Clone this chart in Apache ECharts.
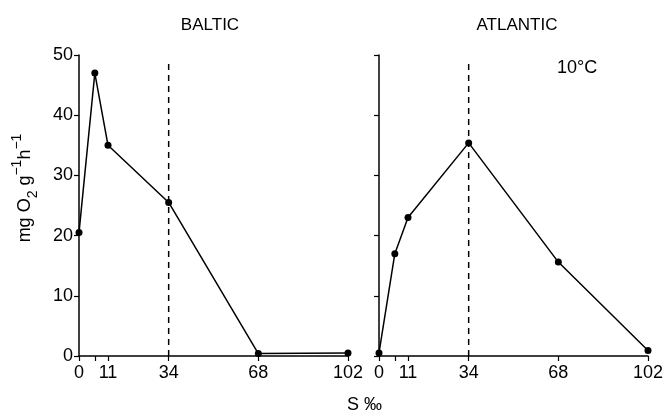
<!DOCTYPE html>
<html>
<head>
<meta charset="utf-8">
<script src="https://cdn.jsdelivr.net/npm/echarts@6/dist/echarts.min.js"></script>
<style>html,body{margin:0;padding:0;background:#fff;}#c{width:665px;height:417px;}</style>
</head>
<body>
<div id="c"></div>
<script>
// Data
const salinity = [0, 6, 11, 34, 68, 102];
const balticValues = [20.5, 47, 35, 25.5, 0.4, 0.5];
const atlanticValues = [0.5, 17, 23, 35.4, 15.6, 0.9];
const xTickValues = [0, 6, 11, 34, 68, 102];
const xLabelValues = [0, 11, 34, 68, 102];
const referenceSalinity = 34;
const referenceLine = [0, 49];
const panelTitles = ['BALTIC', 'ATLANTIC'];

const FONT = 'Liberation Sans';
const chart = echarts.init(document.getElementById('c'));

function pairs(xs, ys) { return xs.map((x, i) => [x, ys[i]]); }

function xAxisCfg(gridIndex) {
  return {
    type: 'value', gridIndex, min: 0, max: 102,
    axisLine: { show: true, lineStyle: { color: '#000', width: 1.5 } },
    axisTick: { show: true, inside: false, length: 5, customValues: xTickValues, lineStyle: { color: '#000', width: 1.2 } },
    axisLabel: { show: true, customValues: xLabelValues, color: '#000', fontFamily: FONT, fontSize: 18, margin: 8 },
    splitLine: { show: false }
  };
}
function yAxisCfg(gridIndex, showLabels) {
  return {
    type: 'value', gridIndex, min: 0, max: 50, interval: 10,
    axisLine: { show: true, onZero: false, lineStyle: { color: '#000', width: 1.5 } },
    axisTick: { show: true, inside: false, length: 5, lineStyle: { color: '#000', width: 1.2 } },
    axisLabel: { show: showLabels, color: '#000', fontFamily: FONT, fontSize: 18, margin: 6 },
    splitLine: { show: false }
  };
}
function dataSeries(idx, values) {
  return {
    type: 'line', xAxisIndex: idx, yAxisIndex: idx,
    data: pairs(salinity, values),
    symbol: 'circle', symbolSize: 7,
    itemStyle: { color: '#000' },
    lineStyle: { color: '#000', width: 1.5 },
    animation: false, z: 3
  };
}
function refSeries(idx) {
  return {
    type: 'line', xAxisIndex: idx, yAxisIndex: idx,
    data: referenceLine.map(v => [referenceSalinity, v]),
    symbol: 'none',
    lineStyle: { color: '#000', width: 1.5, type: [6, 5] },
    animation: false, z: 2
  };
}

chart.setOption({
  backgroundColor: '#fff',
  animation: false,
  title: [
    { text: panelTitles[0], left: 205, top: 12, textAlign: 'center', textStyle: { fontFamily: FONT, fontSize: 17, fontWeight: 'normal', color: '#000' } },
    { text: panelTitles[1], left: 512, top: 12, textAlign: 'center', textStyle: { fontFamily: FONT, fontSize: 17, fontWeight: 'normal', color: '#000' } }
  ],
  grid: [
    { left: 79, top: 55, width: 269, height: 301, containLabel: false, outerBoundsMode: 'none' },
    { left: 379, top: 55, width: 269, height: 301, containLabel: false, outerBoundsMode: 'none' }
  ],
  xAxis: [xAxisCfg(0), xAxisCfg(1)],
  yAxis: [yAxisCfg(0, true), yAxisCfg(1, false)],
  series: [
    dataSeries(0, balticValues), refSeries(0),
    dataSeries(1, atlanticValues), refSeries(1)
  ],
  graphic: [
    { type: 'text', left: 557, top: 59, style: { text: '10\u00b0C', fontFamily: FONT, fontSize: 18, fill: '#000' } },
    { type: 'text', left: 347, top: 396, style: { text: 'S \u2030', fontFamily: FONT, fontSize: 18, fill: '#000' } },
    {
      type: 'text', x: 25, y: 188, rotation: Math.PI / 2,
      style: {
        text: '{a|mg O}{b|2}{a| g}{c|\u22121}{a|h}{c|\u22121}',
        align: 'center', verticalAlign: 'middle', fill: '#000', fontFamily: FONT,
        rich: {
          a: { fontSize: 18, fontFamily: FONT, fill: '#000', lineHeight: 30, verticalAlign: 'middle' },
          b: { fontSize: 14, fontFamily: FONT, fill: '#000', lineHeight: 30, verticalAlign: 'bottom' },
          c: { fontSize: 14, fontFamily: FONT, fill: '#000', lineHeight: 30, verticalAlign: 'top' }
        }
      }
    }
  ]
});
</script>
</body>
</html>
